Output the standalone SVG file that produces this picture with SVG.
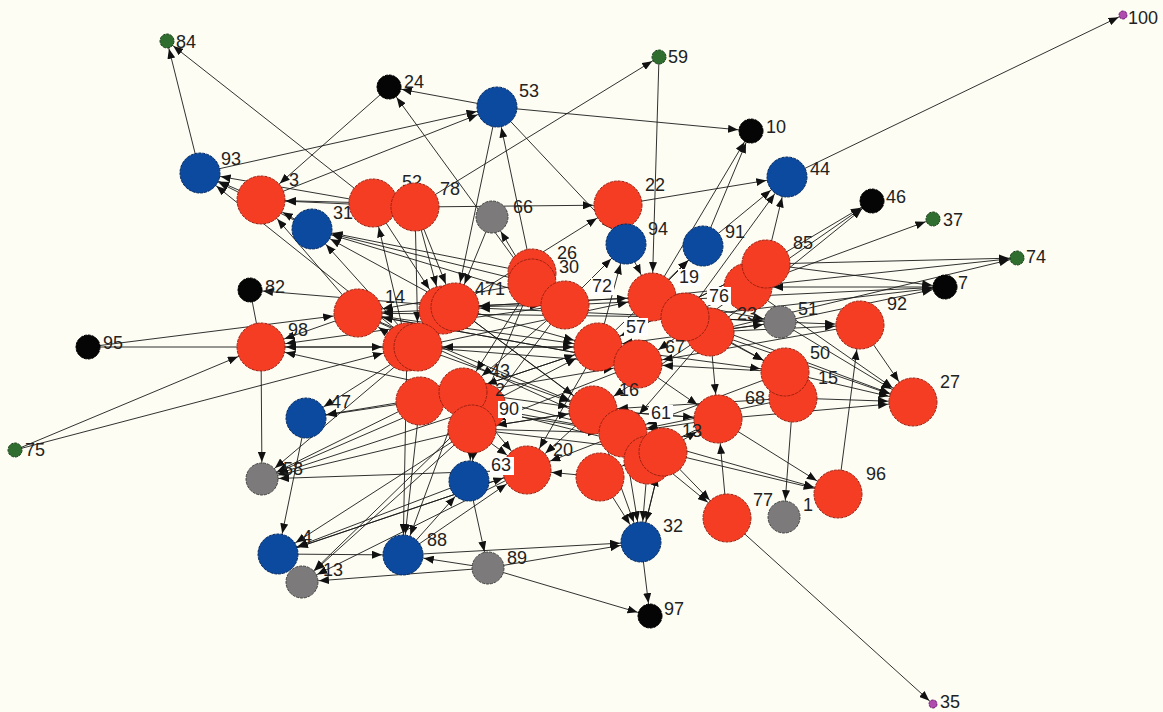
<svg xmlns="http://www.w3.org/2000/svg" width="1163" height="712" viewBox="0 0 1163 712">
<defs>
<style>
.e line{stroke:#1a1a1a;stroke-width:0.9;fill:none}
.n circle{stroke-width:1;stroke-dasharray:3 1}
.red{fill:#f53d24;stroke:#9c2010}
.blue{fill:#0b4a9f;stroke:#062a60}
.gray{fill:#7c7a7a;stroke:#444}
.blk{fill:#050505;stroke:#000}
.grn{fill:#2f6e2f;stroke:#1a401a}
.pur{fill:#b04cb0;stroke:#702070}
text{font-family:"Liberation Sans",Arial,sans-serif;font-size:18px;fill:#222}
.bx{fill:#ffffff}
</style>
<marker id="a24" viewBox="0 0 10 8" refX="35" refY="4" markerWidth="10" markerHeight="8" markerUnits="userSpaceOnUse" orient="auto"><path d="M0,0L10,4L0,8z" fill="#111"/></marker>
<marker id="a20" viewBox="0 0 10 8" refX="31" refY="4" markerWidth="10" markerHeight="8" markerUnits="userSpaceOnUse" orient="auto"><path d="M0,0L10,4L0,8z" fill="#111"/></marker>
<marker id="a16" viewBox="0 0 10 8" refX="27" refY="4" markerWidth="10" markerHeight="8" markerUnits="userSpaceOnUse" orient="auto"><path d="M0,0L10,4L0,8z" fill="#111"/></marker>
<marker id="a12" viewBox="0 0 10 8" refX="23" refY="4" markerWidth="10" markerHeight="8" markerUnits="userSpaceOnUse" orient="auto"><path d="M0,0L10,4L0,8z" fill="#111"/></marker>
<marker id="a7" viewBox="0 0 10 8" refX="18" refY="4" markerWidth="10" markerHeight="8" markerUnits="userSpaceOnUse" orient="auto"><path d="M0,0L10,4L0,8z" fill="#111"/></marker>
<marker id="a4" viewBox="0 0 10 8" refX="15" refY="4" markerWidth="10" markerHeight="8" markerUnits="userSpaceOnUse" orient="auto"><path d="M0,0L10,4L0,8z" fill="#111"/></marker>
</defs>
<rect x="0" y="0" width="1163" height="712" fill="#fdfdf4"/>
<g id="connectors" class="e">
<g marker-end="url(#a24)">
<line x1="389" y1="87" x2="261" y2="200"/>
<line x1="659" y1="57" x2="652" y2="297"/>
<line x1="88" y1="347" x2="358" y2="313"/>
<line x1="88" y1="347" x2="407" y2="347"/>
<line x1="15" y1="450" x2="261" y2="347"/>
<line x1="15" y1="450" x2="407" y2="347"/>
<line x1="838" y1="494" x2="860" y2="325"/>
<line x1="718" y1="419" x2="838" y2="494"/>
<line x1="663" y1="452" x2="838" y2="494"/>
<line x1="623" y1="433" x2="838" y2="494"/>
<line x1="727" y1="518" x2="718" y2="419"/>
<line x1="860" y1="325" x2="913" y2="402"/>
<line x1="780" y1="322" x2="913" y2="402"/>
<line x1="785" y1="372" x2="913" y2="402"/>
<line x1="793" y1="398" x2="913" y2="402"/>
<line x1="685" y1="317" x2="913" y2="402"/>
<line x1="748" y1="287" x2="913" y2="402"/>
<line x1="710" y1="332" x2="913" y2="402"/>
<line x1="718" y1="419" x2="913" y2="402"/>
<line x1="780" y1="322" x2="860" y2="325"/>
<line x1="710" y1="332" x2="860" y2="325"/>
<line x1="685" y1="317" x2="785" y2="372"/>
<line x1="598" y1="347" x2="785" y2="372"/>
<line x1="710" y1="332" x2="785" y2="372"/>
<line x1="623" y1="433" x2="727" y2="518"/>
<line x1="663" y1="452" x2="727" y2="518"/>
<line x1="373" y1="203" x2="261" y2="200"/>
<line x1="312" y1="229" x2="261" y2="200"/>
<line x1="358" y1="313" x2="261" y2="200"/>
<line x1="415" y1="207" x2="261" y2="200"/>
<line x1="358" y1="313" x2="261" y2="347"/>
<line x1="407" y1="347" x2="261" y2="347"/>
<line x1="463" y1="392" x2="261" y2="347"/>
<line x1="565" y1="305" x2="261" y2="347"/>
<line x1="407" y1="347" x2="358" y2="313"/>
<line x1="443" y1="310" x2="358" y2="313"/>
<line x1="532" y1="283" x2="358" y2="313"/>
<line x1="415" y1="207" x2="443" y2="310"/>
<line x1="373" y1="203" x2="443" y2="310"/>
<line x1="415" y1="207" x2="455" y2="307"/>
<line x1="497" y1="107" x2="455" y2="307"/>
<line x1="492" y1="217" x2="455" y2="307"/>
<line x1="415" y1="207" x2="418" y2="347"/>
<line x1="407" y1="347" x2="373" y2="203"/>
<line x1="455" y1="307" x2="618" y2="205"/>
<line x1="415" y1="207" x2="618" y2="205"/>
<line x1="626" y1="244" x2="652" y2="297"/>
<line x1="685" y1="317" x2="748" y2="287"/>
<line x1="598" y1="347" x2="766" y2="264"/>
<line x1="945" y1="287" x2="748" y2="287"/>
<line x1="358" y1="313" x2="598" y2="347"/>
<line x1="358" y1="313" x2="638" y2="364"/>
<line x1="358" y1="313" x2="593" y2="410"/>
<line x1="358" y1="313" x2="623" y2="433"/>
<line x1="418" y1="347" x2="598" y2="347"/>
<line x1="418" y1="347" x2="638" y2="364"/>
<line x1="418" y1="347" x2="652" y2="297"/>
<line x1="418" y1="347" x2="593" y2="410"/>
<line x1="455" y1="307" x2="565" y2="305"/>
<line x1="455" y1="307" x2="598" y2="347"/>
<line x1="455" y1="307" x2="652" y2="297"/>
<line x1="455" y1="307" x2="593" y2="410"/>
<line x1="455" y1="307" x2="623" y2="433"/>
<line x1="463" y1="392" x2="593" y2="410"/>
<line x1="463" y1="392" x2="623" y2="433"/>
<line x1="463" y1="392" x2="598" y2="347"/>
<line x1="463" y1="392" x2="527" y2="470"/>
<line x1="472" y1="429" x2="593" y2="410"/>
<line x1="472" y1="429" x2="623" y2="433"/>
<line x1="472" y1="429" x2="663" y2="452"/>
<line x1="472" y1="429" x2="527" y2="470"/>
<line x1="532" y1="283" x2="463" y2="392"/>
<line x1="532" y1="283" x2="472" y2="429"/>
<line x1="565" y1="305" x2="463" y2="392"/>
<line x1="565" y1="305" x2="472" y2="429"/>
<line x1="598" y1="347" x2="463" y2="392"/>
<line x1="638" y1="364" x2="472" y2="429"/>
<line x1="593" y1="410" x2="472" y2="429"/>
<line x1="623" y1="433" x2="482" y2="407"/>
<line x1="652" y1="297" x2="455" y2="307"/>
<line x1="685" y1="317" x2="455" y2="307"/>
<line x1="685" y1="317" x2="358" y2="313"/>
<line x1="638" y1="364" x2="358" y2="313"/>
<line x1="598" y1="347" x2="418" y2="347"/>
<line x1="593" y1="410" x2="527" y2="470"/>
<line x1="623" y1="433" x2="527" y2="470"/>
<line x1="598" y1="347" x2="527" y2="470"/>
<line x1="710" y1="332" x2="593" y2="410"/>
<line x1="710" y1="332" x2="623" y2="433"/>
<line x1="718" y1="419" x2="623" y2="433"/>
<line x1="718" y1="419" x2="593" y2="410"/>
<line x1="785" y1="372" x2="623" y2="433"/>
<line x1="793" y1="398" x2="623" y2="433"/>
<line x1="793" y1="398" x2="593" y2="410"/>
<line x1="785" y1="372" x2="638" y2="364"/>
<line x1="860" y1="325" x2="638" y2="364"/>
<line x1="780" y1="322" x2="598" y2="347"/>
<line x1="780" y1="322" x2="685" y2="317"/>
<line x1="748" y1="287" x2="638" y2="364"/>
<line x1="766" y1="264" x2="598" y2="347"/>
<line x1="403" y1="555" x2="527" y2="470"/>
<line x1="278" y1="554" x2="527" y2="470"/>
<line x1="482" y1="407" x2="598" y2="347"/>
<line x1="420" y1="401" x2="623" y2="433"/>
<line x1="420" y1="401" x2="638" y2="364"/>
<line x1="482" y1="407" x2="663" y2="452"/>
<line x1="663" y1="452" x2="718" y2="419"/>
<line x1="593" y1="410" x2="718" y2="419"/>
<line x1="638" y1="364" x2="718" y2="419"/>
<line x1="710" y1="332" x2="718" y2="419"/>
<line x1="641" y1="542" x2="663" y2="452"/>
<line x1="600" y1="477" x2="527" y2="470"/>
<line x1="718" y1="419" x2="600" y2="477"/>
</g>
<g marker-end="url(#a20)">
<line x1="200" y1="173" x2="497" y2="107"/>
<line x1="261" y1="200" x2="497" y2="107"/>
<line x1="532" y1="273" x2="497" y2="107"/>
<line x1="497" y1="107" x2="626" y2="244"/>
<line x1="618" y1="205" x2="787" y2="177"/>
<line x1="766" y1="264" x2="787" y2="177"/>
<line x1="703" y1="246" x2="787" y2="177"/>
<line x1="685" y1="317" x2="787" y2="177"/>
<line x1="306" y1="418" x2="278" y2="554"/>
<line x1="278" y1="554" x2="403" y2="555"/>
<line x1="488" y1="568" x2="403" y2="555"/>
<line x1="488" y1="568" x2="641" y2="542"/>
<line x1="403" y1="555" x2="641" y2="542"/>
<line x1="623" y1="433" x2="641" y2="542"/>
<line x1="593" y1="410" x2="641" y2="542"/>
<line x1="663" y1="452" x2="641" y2="542"/>
<line x1="600" y1="477" x2="641" y2="542"/>
<line x1="648" y1="460" x2="641" y2="542"/>
<line x1="455" y1="307" x2="312" y2="229"/>
<line x1="418" y1="347" x2="312" y2="229"/>
<line x1="565" y1="305" x2="312" y2="229"/>
<line x1="532" y1="283" x2="312" y2="229"/>
<line x1="532" y1="273" x2="312" y2="229"/>
<line x1="261" y1="200" x2="200" y2="173"/>
<line x1="373" y1="203" x2="200" y2="173"/>
<line x1="312" y1="229" x2="200" y2="173"/>
<line x1="418" y1="347" x2="200" y2="173"/>
<line x1="418" y1="347" x2="306" y2="418"/>
<line x1="463" y1="392" x2="306" y2="418"/>
<line x1="420" y1="401" x2="306" y2="418"/>
<line x1="407" y1="347" x2="403" y2="555"/>
<line x1="463" y1="392" x2="403" y2="555"/>
<line x1="420" y1="401" x2="403" y2="555"/>
<line x1="527" y1="470" x2="278" y2="554"/>
<line x1="469" y1="481" x2="278" y2="554"/>
<line x1="472" y1="429" x2="278" y2="554"/>
<line x1="482" y1="407" x2="469" y2="481"/>
<line x1="472" y1="429" x2="469" y2="481"/>
<line x1="403" y1="555" x2="469" y2="481"/>
<line x1="565" y1="305" x2="626" y2="244"/>
<line x1="598" y1="347" x2="626" y2="244"/>
<line x1="598" y1="347" x2="703" y2="246"/>
<line x1="652" y1="297" x2="703" y2="246"/>
</g>
<g marker-end="url(#a16)">
<line x1="261" y1="347" x2="262" y2="479"/>
<line x1="463" y1="392" x2="262" y2="479"/>
<line x1="472" y1="429" x2="262" y2="479"/>
<line x1="418" y1="347" x2="262" y2="479"/>
<line x1="482" y1="407" x2="262" y2="479"/>
<line x1="527" y1="470" x2="262" y2="479"/>
<line x1="420" y1="401" x2="262" y2="479"/>
<line x1="488" y1="568" x2="302" y2="582"/>
<line x1="527" y1="470" x2="302" y2="582"/>
<line x1="482" y1="407" x2="302" y2="582"/>
<line x1="472" y1="429" x2="302" y2="582"/>
<line x1="469" y1="481" x2="488" y2="568"/>
<line x1="793" y1="398" x2="784" y2="517"/>
<line x1="532" y1="283" x2="492" y2="217"/>
<line x1="710" y1="332" x2="780" y2="322"/>
<line x1="685" y1="317" x2="780" y2="322"/>
<line x1="652" y1="297" x2="780" y2="322"/>
</g>
<g marker-end="url(#a12)">
<line x1="497" y1="107" x2="389" y2="87"/>
<line x1="532" y1="283" x2="389" y2="87"/>
<line x1="497" y1="107" x2="751" y2="131"/>
<line x1="652" y1="297" x2="751" y2="131"/>
<line x1="703" y1="246" x2="751" y2="131"/>
<line x1="766" y1="264" x2="872" y2="201"/>
<line x1="748" y1="287" x2="872" y2="201"/>
<line x1="710" y1="332" x2="872" y2="201"/>
<line x1="766" y1="264" x2="945" y2="287"/>
<line x1="685" y1="317" x2="945" y2="287"/>
<line x1="565" y1="305" x2="945" y2="287"/>
<line x1="780" y1="322" x2="945" y2="287"/>
<line x1="455" y1="307" x2="250" y2="290"/>
<line x1="488" y1="568" x2="650" y2="616"/>
<line x1="641" y1="542" x2="650" y2="616"/>
</g>
<g marker-end="url(#a7)">
<line x1="200" y1="173" x2="167" y2="41"/>
<line x1="373" y1="203" x2="167" y2="41"/>
<line x1="415" y1="207" x2="659" y2="57"/>
<line x1="748" y1="287" x2="933" y2="219"/>
<line x1="766" y1="264" x2="1017" y2="258"/>
<line x1="710" y1="332" x2="1017" y2="258"/>
<line x1="652" y1="297" x2="1017" y2="258"/>
</g>
<g marker-end="url(#a4)">
<line x1="787" y1="177" x2="1123" y2="15"/>
<line x1="727" y1="518" x2="933" y2="704"/>
</g>
<line x1="250" y1="290" x2="261" y2="347"/>
</g>
<g id="nodes" class="n">
<g id="node-84"><circle class="grn" cx="167" cy="41" r="7"/><text x="176" y="48">84</text></g>
<g id="node-59"><circle class="grn" cx="659" cy="57" r="7"/><text x="668" y="63">59</text></g>
<g id="node-37"><circle class="grn" cx="933" cy="219" r="7"/><text x="943" y="226">37</text></g>
<g id="node-74"><circle class="grn" cx="1017" cy="258" r="7"/><text x="1026" y="263">74</text></g>
<g id="node-75"><circle class="grn" cx="15" cy="450" r="7"/><text x="25" y="456">75</text></g>
<g id="node-100"><circle class="pur" cx="1123" cy="15" r="4"/><text x="1128" y="24">100</text></g>
<g id="node-35"><circle class="pur" cx="933" cy="704" r="4"/><text x="940" y="708">35</text></g>
<g id="node-24"><circle class="blk" cx="389" cy="87" r="12"/><text x="404" y="88">24</text></g>
<g id="node-10"><circle class="blk" cx="751" cy="131" r="12"/><text x="766" y="133">10</text></g>
<g id="node-46"><circle class="blk" cx="872" cy="201" r="12"/><text x="886" y="203">46</text></g>
<g id="node-7"><circle class="blk" cx="945" cy="287" r="12"/><text x="958" y="289">7</text></g>
<g id="node-82"><circle class="blk" cx="250" cy="290" r="12"/><text x="265" y="293">82</text></g>
<g id="node-95"><circle class="blk" cx="88" cy="347" r="12"/><text x="103" y="349">95</text></g>
<g id="node-97"><circle class="blk" cx="650" cy="616" r="12"/><text x="664" y="615">97</text></g>
<g id="node-93"><circle class="blue" cx="200" cy="173" r="20"/><text x="221" y="165">93</text></g>
<g id="node-53"><circle class="blue" cx="497" cy="107" r="20"/><text x="519" y="97">53</text></g>
<g id="node-44"><circle class="blue" cx="787" cy="177" r="20"/><text x="810" y="175">44</text></g>
<g id="node-3"><circle class="red" cx="261" cy="200" r="24"/><text x="289" y="186">3</text></g>
<g id="node-31"><circle class="blue" cx="312" cy="229" r="20"/><text x="333" y="219">31</text></g>
<g id="node-52"><circle class="red" cx="373" cy="203" r="24"/><text x="402" y="188">52</text></g>
<g id="node-78"><circle class="red" cx="415" cy="207" r="24"/><text x="440" y="195">78</text></g>
<g id="node-66"><circle class="gray" cx="492" cy="217" r="16"/><text x="513" y="213">66</text></g>
<g id="node-22"><circle class="red" cx="618" cy="205" r="24"/><text x="645" y="191">22</text></g>
<g id="node-94"><circle class="blue" cx="626" cy="244" r="20"/><text x="648" y="235">94</text></g>
<g id="node-91"><circle class="blue" cx="703" cy="246" r="20"/><text x="725" y="238">91</text></g>
<g id="node-26"><text x="557" y="259">26</text><circle class="red" cx="532" cy="273" r="24"/></g>
<g id="node-30"><circle class="red" cx="532" cy="283" r="24"/><text x="559" y="273">30</text></g>
<g id="node-72"><circle class="red" cx="565" cy="305" r="24"/><rect class="bx" x="591" y="278" width="23" height="17"/><text x="592" y="292">72</text></g>
<g id="node-14"><circle class="red" cx="358" cy="313" r="24"/><text x="385" y="303">14</text></g>
<g id="node-98"><circle class="red" cx="261" cy="347" r="24"/><text x="288" y="336">98</text></g>
<g id="node-71a"><circle class="red" cx="443" cy="310" r="24"/></g>
<g id="node-471"><circle class="red" cx="455" cy="307" r="24"/><text x="475" y="295">471</text></g>
<g id="node-41a"><circle class="red" cx="407" cy="347" r="24"/></g>
<g id="node-41b"><circle class="red" cx="418" cy="347" r="24"/></g>
<g id="node-19"><circle class="red" cx="652" cy="297" r="24"/><rect class="bx" x="678" y="269" width="23" height="17"/><text x="679" y="283">19</text></g>
<g id="node-85a"><circle class="red" cx="748" cy="287" r="24"/></g>
<g id="node-85"><circle class="red" cx="766" cy="264" r="24"/><text x="793" y="249">85</text></g>
<g id="node-51"><circle class="gray" cx="780" cy="322" r="16"/><text x="798" y="315">51</text></g>
<g id="node-23"><text x="737" y="320">23</text><circle class="red" cx="710" cy="332" r="24"/></g>
<g id="node-76"><circle class="red" cx="685" cy="317" r="24"/><rect class="bx" x="707" y="287" width="24" height="18"/><text x="709" y="302">76</text></g>
<g id="node-92"><circle class="red" cx="860" cy="325" r="24"/><text x="887" y="310">92</text></g>
<g id="node-57"><circle class="red" cx="598" cy="347" r="24"/><rect class="bx" x="624" y="318" width="24" height="18"/><text x="626" y="333">57</text></g>
<g id="node-67"><text x="665" y="353">67</text><circle class="red" cx="638" cy="364" r="24"/></g>
<g id="node-50"><circle class="red" cx="793" cy="398" r="24"/><text x="810" y="359">50</text></g>
<g id="node-15"><circle class="red" cx="785" cy="372" r="24"/><text x="818" y="384">15</text></g>
<g id="node-27"><circle class="red" cx="913" cy="402" r="24"/><text x="940" y="388">27</text></g>
<g id="node-47"><circle class="blue" cx="306" cy="418" r="20"/><text x="331" y="408">47</text></g>
<g id="node-41x"><circle class="red" cx="420" cy="401" r="24"/></g>
<g id="node-2"><circle class="red" cx="482" cy="407" r="24"/><text x="495" y="396">2</text></g>
<g id="node-43"><circle class="red" cx="463" cy="392" r="24"/><text x="490" y="377">43</text></g>
<g id="node-90"><circle class="red" cx="472" cy="429" r="24"/><rect class="bx" x="498" y="401" width="24" height="17"/><text x="499" y="415">90</text></g>
<g id="node-16"><text x="619" y="396">16</text><circle class="red" cx="593" cy="410" r="24"/></g>
<g id="node-68"><circle class="red" cx="718" cy="419" r="24"/><text x="745" y="404">68</text></g>
<g id="node-61"><circle class="red" cx="623" cy="433" r="24"/><rect class="bx" x="649" y="405" width="24" height="17"/><text x="651" y="419">61</text></g>
<g id="node-13b"><circle class="red" cx="648" cy="460" r="24"/></g>
<g id="node-13"><circle class="red" cx="663" cy="452" r="24"/><text x="682" y="437">13</text></g>
<g id="node-58"><circle class="gray" cx="262" cy="479" r="16"/><text x="283" y="475">58</text></g>
<g id="node-20"><circle class="red" cx="527" cy="470" r="24"/><text x="553" y="456">20</text></g>
<g id="node-63"><circle class="blue" cx="469" cy="481" r="20"/><rect class="bx" x="490" y="457" width="24" height="18"/><text x="491" y="471">63</text></g>
<g id="node-x2"><circle class="red" cx="600" cy="477" r="24"/></g>
<g id="node-96"><circle class="red" cx="838" cy="494" r="24"/><text x="866" y="480">96</text></g>
<g id="node-1"><circle class="gray" cx="784" cy="517" r="16"/><text x="803" y="511">1</text></g>
<g id="node-77"><circle class="red" cx="727" cy="518" r="24"/><text x="753" y="506">77</text></g>
<g id="node-32"><circle class="blue" cx="641" cy="542" r="20"/><text x="663" y="532">32</text></g>
<g id="node-4"><circle class="blue" cx="278" cy="554" r="20"/><text x="302" y="543">4</text></g>
<g id="node-88"><circle class="blue" cx="403" cy="555" r="20"/><text x="427" y="546">88</text></g>
<g id="node-13g"><circle class="gray" cx="302" cy="582" r="16"/><text x="323" y="576">13</text></g>
<g id="node-89"><circle class="gray" cx="488" cy="568" r="16"/><text x="507" y="564">89</text></g>
</g>
</svg>
